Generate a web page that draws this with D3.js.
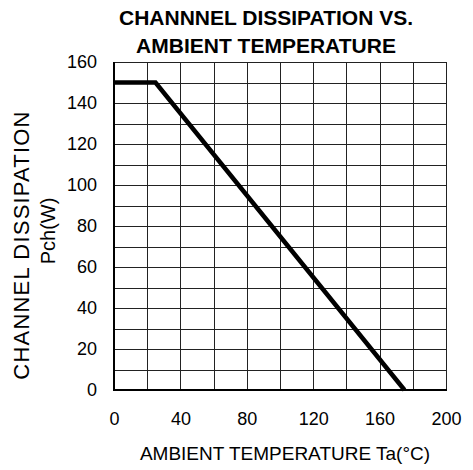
<!DOCTYPE html>
<html><head><meta charset="utf-8">
<script src="https://cdn.jsdelivr.net/npm/d3@7/dist/d3.min.js"></script>
<style>body{margin:0;background:#fff}svg{display:block}text{font-family:"Liberation Sans",Arial,sans-serif;fill:#000}</style>
</head><body>
<script>
const temps = [0, 25, 175];
const power = [150, 150, 0];
const xTicks = [0, 40, 80, 120, 160, 200];
const yTicks = [0, 20, 40, 60, 80, 100, 120, 140, 160];
const titleLines = ["CHANNNEL DISSIPATION VS.", "AMBIENT TEMPERATURE"];
const xTitle = "AMBIENT TEMPERATURE Ta(°C)";
const yTitleLines = ["CHANNEL DISSIPATION", "Pch(W)"];

const W = 473, H = 470;
const m = {left:114, right:446, top:62, bottom:390};
const svg = d3.select("body").append("svg").attr("width", W).attr("height", H);
const x = d3.scaleLinear().domain([0,200]).range([m.left, m.right]);
const y = d3.scaleLinear().domain([0,160]).range([m.bottom, m.top]);

const g = svg.append("g");
g.selectAll(".vg").data(d3.range(0,201,20)).join("line")
  .attr("x1", d=>Math.round(x(d))+0.5).attr("x2", d=>Math.round(x(d))+0.5).attr("y1", m.top).attr("y2", m.bottom)
  .attr("stroke", "#222").attr("stroke-width", 1);
g.selectAll(".hg").data(d3.range(0,161,10)).join("line")
  .attr("y1", d=>Math.round(y(d))+0.5).attr("y2", d=>Math.round(y(d))+0.5).attr("x1", m.left).attr("x2", Math.round(m.right)+1)
  .attr("stroke", "#222").attr("stroke-width", 1);
g.append("line").attr("x1", m.left).attr("x2", m.left).attr("y1", m.top).attr("y2", m.bottom+1)
  .attr("stroke", "#000").attr("stroke-width", 2);
g.append("line").attr("x1", m.left-1).attr("x2", m.right+1).attr("y1", m.bottom).attr("y2", m.bottom)
  .attr("stroke", "#000").attr("stroke-width", 2);

const xAxis = d3.axisBottom(x).tickValues(xTicks).tickSize(0).tickPadding(0);
const xa = svg.append("g").attr("transform", `translate(0,${m.bottom+22})`).call(xAxis);
xa.select(".domain").remove();
xa.selectAll("text").attr("font-size", 18).attr("dy", "0.71em").attr("font-family", '"Liberation Sans",Arial,sans-serif');

const yAxis = d3.axisLeft(y).tickValues(yTicks).tickSize(0).tickPadding(0);
const ya = svg.append("g").attr("transform", `translate(${m.left-17},0)`).call(yAxis);
ya.select(".domain").remove();
ya.selectAll("text").attr("font-size", 18).attr("font-family", '"Liberation Sans",Arial,sans-serif');

const pts = temps.map((t,i)=>[t, power[i]]);
svg.append("path").datum(pts)
  .attr("d", d3.line().x(d=>x(d[0])).y(d=>y(d[1])))
  .attr("fill", "none").attr("stroke", "#000").attr("stroke-width", 4.5).attr("stroke-linejoin", "miter");

svg.append("text").attr("text-anchor", "middle")
  .attr("font-size", 21).attr("font-weight", "bold")
  .selectAll("tspan").data(titleLines).join("tspan")
  .attr("x", 266).attr("y", (d,i)=>25 + i*28).text(d=>d);

svg.append("text").attr("x", 285).attr("y", 460).attr("text-anchor", "middle")
  .attr("font-size", 19).text(xTitle);

svg.append("text").attr("transform", "translate(29,245) rotate(-90)").attr("text-anchor", "middle")
  .attr("font-size", 22).attr("letter-spacing", 1.2).text(yTitleLines[0]);
svg.append("text").attr("transform", "translate(55,231) rotate(-90)").attr("text-anchor", "middle")
  .attr("font-size", 20).text(yTitleLines[1]);
</script>
</body></html>
